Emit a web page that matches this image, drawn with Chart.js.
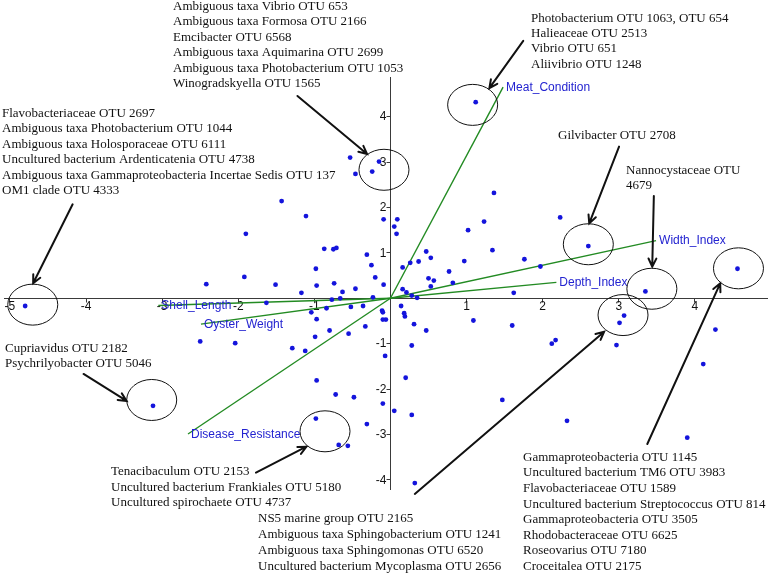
<!DOCTYPE html>
<html lang="en">
<head>
<meta charset="UTF-8">
<title>OTU biplot</title>
<script src="https://cdn.jsdelivr.net/npm/chart.js@4.4.1/dist/chart.umd.min.js"></script>
<style>
  * { margin: 0; padding: 0; box-sizing: border-box; }
  body { width: 772px; height: 574px; background: #fff; overflow: hidden; }
</style>
</head>
<body>
<canvas id="plot" width="772" height="574"></canvas>
<script>
// sample (OTU) scores
const ptX = [-4.80, -0.53, -0.46, -0.24, -0.15, -1.43, -1.11, -0.09, 0.09, 0.05,
  0.08, -1.90, -0.87, -0.75, -0.71, -0.31, -0.25, -0.98, -0.20, -1.92,
  -2.42, -1.51, -0.97, -0.74, -0.09, -1.17, -0.63, -0.46, -0.77, -0.66,
  -0.23, -1.63, 0.16, 0.21, 0.28, 0.35, 0.16, 0.26, 0.37, 0.47,
  0.53, 0.97, 0.77, 0.50, 0.57, 0.82, 0.53, 1.62, 1.36, 1.23,
  1.02, 1.34, 1.76, 1.97, 2.23, 2.60, 1.12, 3.35, 4.56, 0.14,
  0.18, 0.19, 0.31, 0.47, 1.09, 1.60, 0.28, 0.20, 1.47, 0.28,
  -0.11, -0.10, -0.06, -0.10, 2.12, 2.17, 2.97, 3.01, 3.07, 4.27,
  4.11, -0.07, 0.05, -0.10, 2.32, 3.90, 0.32, -1.04, -0.84, -0.52,
  -0.36, -0.97, -0.33, -0.80, -0.55, -0.99, -1.29, -1.12, -0.97, -0.72,
  -0.48, -0.98, -2.50, -2.04, -0.31, -3.12, -0.68, -0.56];
const ptY = [-0.17, 3.10, 2.74, 2.79, 3.01, 2.14, 1.81, 1.74, 1.74, 1.58,
  1.42, 1.42, 1.09, 1.08, 1.11, 0.96, 0.73, 0.65, 0.46, 0.47,
  0.31, 0.30, 0.28, 0.33, 0.30, 0.12, 0.14, 0.21, -0.03, 0.00,
  0.02, -0.10, 0.20, 0.13, 0.06, 0.01, 0.68, 0.78, 0.81, 1.03,
  0.89, 0.82, 0.59, 0.44, 0.39, 0.34, 0.26, 0.12, 2.32, 1.69,
  1.50, 1.06, 0.86, 0.70, 1.78, 1.15, 4.32, 0.15, 0.65, -0.17,
  -0.33, -0.40, -0.57, -0.71, -0.49, -0.60, -1.04, -1.75, -2.24, -2.57,
  -0.27, -0.31, -0.47, -0.47, -1.00, -0.92, -1.03, -0.54, -0.38, -0.69,
  -1.45, -1.27, -2.48, -2.32, -2.70, -3.07, -4.07, -0.31, -0.22, -0.19,
  -0.17, -0.46, -0.62, -0.71, -0.78, -0.85, -1.10, -1.16, -1.81, -2.12,
  -2.18, -2.65, -0.95, -0.99, -2.77, -2.37, -3.23, -3.25];

// environmental vectors
const vecNames = ["Meat_Condition", "Width_Index", "Depth_Index", "Shell_Length", "Oyster_Weight", "Disease_Resistance"];
const vecX = [1.48, 3.49, 2.18, -3.05, -2.49, -2.66];
const vecY = [4.65, 1.27, 0.35, -0.16, -0.57, -2.99];

// axis ticks
const xTicks = [-5, -4, -3, -2, -1, 1, 2, 3, 4];
const yTicks = [4, 3, 2, 1, -1, -2, -3, -4];

// OTU call-outs
const noteTopMid = ["Ambiguous taxa Vibrio OTU 653", "Ambiguous taxa Formosa OTU 2166", "Emcibacter OTU 6568",
  "Ambiguous taxa Aquimarina OTU 2699", "Ambiguous taxa Photobacterium OTU 1053", "Winogradskyella OTU 1565"];
const noteTopRight = ["Photobacterium OTU 1063, OTU 654", "Halieaceae OTU 2513", "Vibrio OTU 651", "Aliivibrio OTU 1248"];
const noteLeft = ["Flavobacteriaceae OTU 2697", "Ambiguous taxa Photobacterium OTU 1044", "Ambiguous taxa Holosporaceae OTU 6111",
  "Uncultured bacterium Ardenticatenia OTU 4738", "Ambiguous taxa Gammaproteobacteria Incertae Sedis OTU 137", "OM1 clade OTU 4333"];
const noteGilvi = ["Gilvibacter OTU 2708"];
const noteNanno = ["Nannocystaceae OTU", "4679"];
const noteCupri = ["Cupriavidus OTU 2182", "Psychrilyobacter OTU 5046"];
const noteTenaci = ["Tenacibaculum OTU 2153", "Uncultured bacterium Frankiales OTU 5180", "Uncultured spirochaete OTU 4737"];
const noteNS5 = ["NS5 marine group OTU 2165", "Ambiguous taxa Sphingobacterium OTU 1241", "Ambiguous taxa Sphingomonas OTU 6520",
  "Uncultured bacterium Mycoplasma OTU 2656"];
const noteBottomRight = ["Gammaproteobacteria OTU 1145", "Uncultured bacterium TM6 OTU 3983", "Flavobacteriaceae OTU 1589",
  "Uncultured bacterium Streptococcus OTU 814", "Gammaproteobacteria OTU 3505", "Rhodobacteraceae OTU 6625",
  "Roseovarius OTU 7180", "Croceitalea OTU 2175"];

// ---- layout (pixels for text, data units for circles / arrows) ----
const textBlocks = [
  { lines: noteTopMid, x: 173, y: 10, lh: 15.45 },
  { lines: noteTopRight, x: 531, y: 21.5, lh: 15.4 },
  { lines: noteLeft, x: 2, y: 116.7, lh: 15.5 },
  { lines: noteGilvi, x: 558, y: 138.5, lh: 15.5 },
  { lines: noteNanno, x: 626, y: 174, lh: 15.2 },
  { lines: noteCupri, x: 5, y: 351.7, lh: 15 },
  { lines: noteTenaci, x: 111, y: 475, lh: 15.5 },
  { lines: noteNS5, x: 258, y: 522, lh: 16 },
  { lines: noteBottomRight, x: 523, y: 460.7, lh: 15.6 }
];
const rings = [
  [1.08, 4.26], [-0.085, 2.83], [-4.70, -0.14], [2.60, 1.19], [3.435, 0.21],
  [4.573, 0.66], [3.056, -0.37], [-3.137, -2.24], [-0.86, -2.93]
];
const arrows = [
  [[1.745, 5.67], [1.30, 4.63]],
  [[-1.222, 4.456], [-0.307, 3.178]],
  [[-4.176, 2.07], [-4.695, 0.33]],
  [[3.004, 3.34], [2.612, 1.65]],
  [[3.461, 2.253], [3.44, 0.696]],
  [[3.375, -3.21], [4.333, 0.33]],
  [[0.32, -4.31], [2.808, -0.736]],
  [[-4.033, -1.667], [-3.467, -2.262]],
  [[-1.767, -3.84], [-1.105, -3.27]]
];

const crisp = v => Math.floor(v) + 0.5;

const decor = {
  id: 'decor',
  beforeDatasetsDraw(chart) {
    const { ctx, scales: { x, y } } = chart;
    const x0 = crisp(x.getPixelForValue(0));
    const y0 = crisp(y.getPixelForValue(0));
    ctx.save();
    ctx.strokeStyle = '#3a3a3a';
    ctx.lineWidth = 1;
    ctx.beginPath();
    ctx.moveTo(x.left, y0); ctx.lineTo(x.right, y0);
    ctx.moveTo(x0, y.top); ctx.lineTo(x0, y.bottom);
    xTicks.forEach(v => {
      const px = crisp(x.getPixelForValue(v));
      ctx.moveTo(px, y0); ctx.lineTo(px, y0 + 4);
    });
    yTicks.forEach(v => {
      const py = crisp(y.getPixelForValue(v));
      ctx.moveTo(x0 - 4, py); ctx.lineTo(x0, py);
    });
    ctx.stroke();
    ctx.fillStyle = '#111';
    ctx.font = "12px 'Liberation Sans', Arial, sans-serif";
    ctx.textAlign = 'center';
    ctx.textBaseline = 'alphabetic';
    xTicks.forEach(v => ctx.fillText(String(v), x.getPixelForValue(v), y0 + 11));
    ctx.textAlign = 'right';
    ctx.textBaseline = 'middle';
    yTicks.forEach(v => ctx.fillText(String(v), x0 - 4, y.getPixelForValue(v) + 0.5));
    ctx.restore();
  },
  afterDatasetsDraw(chart) {
    const { ctx, scales: { x, y } } = chart;
    ctx.save();
    // vector labels
    ctx.fillStyle = '#2323d0';
    ctx.font = "12px 'Liberation Sans', Arial, sans-serif";
    ctx.textAlign = 'left';
    ctx.textBaseline = 'middle';
    vecNames.forEach((n, i) => ctx.fillText(n, x.getPixelForValue(vecX[i]) + 3, y.getPixelForValue(vecY[i]) + 0.5));

    // rings
    ctx.strokeStyle = '#111';
    ctx.lineWidth = 1;
    rings.forEach(([cx, cy]) => {
      ctx.beginPath();
      ctx.ellipse(x.getPixelForValue(cx), y.getPixelForValue(cy), 25, 20.5, 0, 0, Math.PI * 2);
      ctx.stroke();
    });

    // arrows
    ctx.lineWidth = 2;
    ctx.lineCap = 'round';
    arrows.forEach(([a, b]) => {
      const x1 = x.getPixelForValue(a[0]), y1 = y.getPixelForValue(a[1]);
      const x2 = x.getPixelForValue(b[0]), y2 = y.getPixelForValue(b[1]);
      const ang = Math.atan2(y2 - y1, x2 - x1);
      ctx.beginPath();
      ctx.moveTo(x1, y1); ctx.lineTo(x2, y2);
      ctx.moveTo(x2 - 9 * Math.cos(ang - 0.45), y2 - 9 * Math.sin(ang - 0.45));
      ctx.lineTo(x2, y2);
      ctx.lineTo(x2 - 9 * Math.cos(ang + 0.45), y2 - 9 * Math.sin(ang + 0.45));
      ctx.stroke();
    });

    // call-out text
    ctx.fillStyle = '#111';
    ctx.font = "13px 'Liberation Serif', 'Times New Roman', serif";
    ctx.textBaseline = 'alphabetic';
    textBlocks.forEach(b => b.lines.forEach((t, i) => ctx.fillText(t, b.x, b.y + i * b.lh)));
    ctx.restore();
  }
};

const datasets = [{
  type: 'scatter',
  data: ptX.map((v, i) => ({ x: v, y: ptY[i] })),
  backgroundColor: '#1414dc',
  borderWidth: 0,
  pointRadius: 2.4,
  order: 0
}];
vecNames.forEach((n, i) => datasets.push({
  type: 'line',
  data: [{ x: 0, y: 0 }, { x: vecX[i], y: vecY[i] }],
  borderColor: '#238b23',
  borderWidth: 1.4,
  pointRadius: 0,
  fill: false,
  order: 1
}));

new Chart(document.getElementById('plot'), {
  type: 'scatter',
  data: { datasets },
  options: {
    responsive: false,
    animation: false,
    devicePixelRatio: 1,
    layout: { padding: { left: 0, right: 4, top: 77, bottom: 84 } },
    scales: {
      x: { type: 'linear', min: -5.078, max: 4.961, display: false },
      y: { type: 'linear', min: -4.223, max: 4.874, display: false }
    },
    plugins: { legend: { display: false }, tooltip: { enabled: false } }
  },
  plugins: [decor]
});
</script>
</body>
</html>
